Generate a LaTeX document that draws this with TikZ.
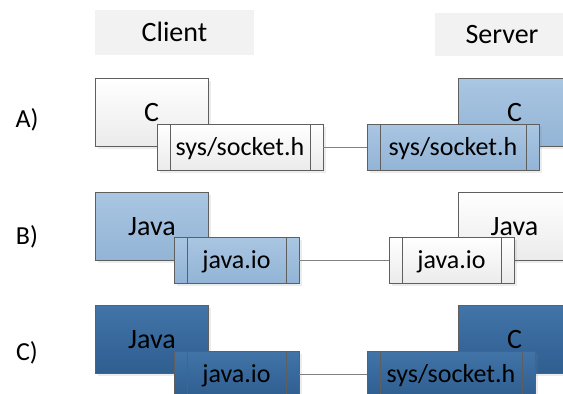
\documentclass[tikz,border=0pt]{standalone}
\usepackage{fontspec}
\setmainfont{Carlito}
\usetikzlibrary{shadows}

\definecolor{headfill}{HTML}{F2F2F2}
\definecolor{boxline}{HTML}{5F5F5F}
\definecolor{wirecol}{HTML}{808080}
\definecolor{paleTop}{HTML}{FFFFFF}
\definecolor{paleBot}{HTML}{EBEBEB}
\definecolor{lightTop}{HTML}{A9C6E2}
\definecolor{lightBot}{HTML}{93B4D6}
\definecolor{darkTop}{HTML}{4274A7}
\definecolor{darkBot}{HTML}{2F5E91}

\begin{document}
\begin{tikzpicture}[x=1pt,y=-1pt,
  every node/.style={font=\fontsize{26}{30}\selectfont, inner sep=0pt, text height=17pt, text depth=0pt},
  big/.style={font=\fontsize{28}{32}\selectfont, text height=18pt},
  head/.style={big, fill=headfill, minimum height=45pt},
  box/.style={draw=boxline, line width=0.8pt, minimum width=113pt, minimum height=68pt,
    drop shadow={shadow xshift=2.5pt, shadow yshift=-2.5pt, opacity=0.15}},
  unit/.style={box, big},
  iface/.style={box, minimum height=46pt,
    path picture={\draw[boxline, line width=0.8pt]
      ([xshift=13pt]path picture bounding box.north west) -- ([xshift=13pt]path picture bounding box.south west)
      ([xshift=-13pt]path picture bounding box.north east) -- ([xshift=-13pt]path picture bounding box.south east);}},
  pale/.style={top color=paleTop, bottom color=paleBot},
  light/.style={top color=lightTop, bottom color=lightBot},
  dark/.style={top color=darkTop, bottom color=darkBot},
  wire/.style={draw=wirecol, line width=0.8pt}
]
\useasboundingbox (0,0) rectangle (563,394);
\clip (0,0) rectangle (563,394);

% headers
\node[head, minimum width=159pt] (clientHead) at (174.5,32.5) {Client};
\node[head, minimum width=134pt, minimum height=43pt] (serverHead) at (502,34.5) {Server};

% row labels
\node (lblA) at (27,119) {A)};
\node (lblB) at (27,236) {B)};
\node (lblC) at (27,352) {C)};

% A) C <-> C
\node[unit, pale] (cliA) at (151.5,112.5) {C};
\node[unit, light] (srvA) at (514.5,112.5) {C};
\node[iface, pale, minimum width=166pt] (cliIfA) at (240,147) {sys/socket.h};
\node[iface, light, minimum width=172pt] (srvIfA) at (453,147) {sys/socket.h};
\draw[wire] (cliIfA.east) -- (srvIfA.west);

% B) Java <-> Java
\node[unit, light] (cliB) at (152,226) {Java};
\node[unit, pale] (srvB) at (514.5,226) {Java};
\node[iface, light, minimum width=125pt] (cliIfB) at (236.5,260) {java.io};
\node[iface, pale, minimum width=125pt] (srvIfB) at (451.5,260) {java.io};
\draw[wire] (cliIfB.east) -- (srvIfB.west);

% C) Java <-> C
\node[unit, dark] (cliC) at (152,339.5) {Java};
\node[unit, dark] (srvC) at (514.5,339.5) {C};
\node[iface, dark, minimum width=125pt] (cliIfC) at (236.5,374) {java.io};
\node[iface, dark, minimum width=168pt] (srvIfC) at (451,374) {sys/socket.h};
\draw[wire] (cliIfC.east) -- (srvIfC.west);
\end{tikzpicture}
\end{document}
